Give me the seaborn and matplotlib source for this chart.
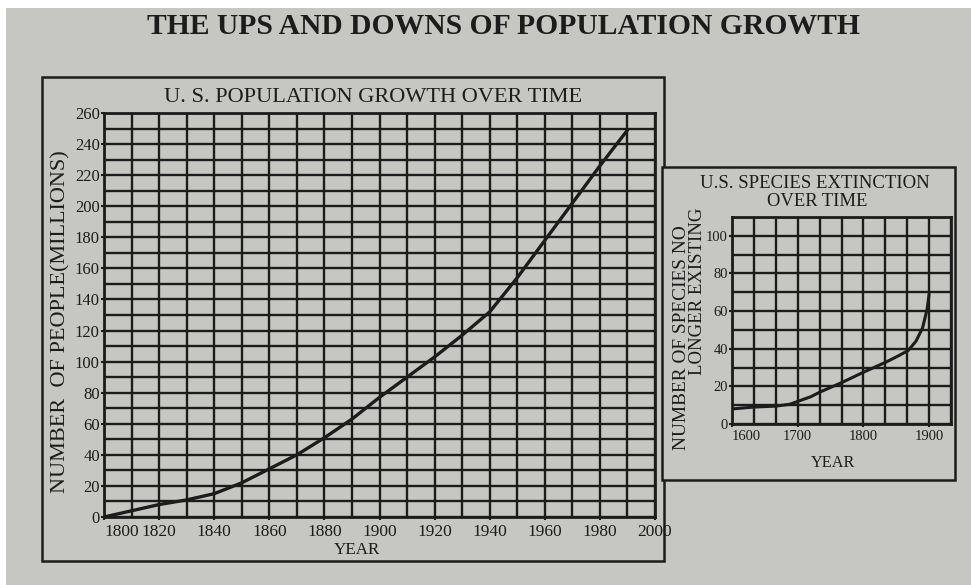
import matplotlib
matplotlib.use("Agg")
import matplotlib.pyplot as plt
import seaborn as sns
import pandas as pd
from matplotlib.patches import Rectangle
from matplotlib.ticker import MultipleLocator, FixedLocator

# ---------------- data ----------------
pop_years = [1800, 1810, 1820, 1830, 1840, 1850, 1860, 1870, 1880, 1890,
             1900, 1910, 1920, 1930, 1940, 1950, 1960, 1970, 1980, 1990]
pop_millions = [0, 4, 8, 11, 15, 22, 31, 40, 51, 63,
                77, 90, 103, 117, 132, 154, 178, 202, 226, 249]

ext_years = [1600, 1633, 1667, 1688, 1700, 1720, 1734, 1767, 1800, 1835,
             1852, 1868, 1880, 1890, 1897, 1900]
ext_counts = [8, 9, 9.5, 10.5, 12, 14.5, 17, 22, 27.5, 33,
              36, 39, 44, 51, 61, 69]

pop_xticks = [1800, 1820, 1840, 1860, 1880, 1900, 1920, 1940, 1960, 1980, 2000]
pop_yticks = [0, 20, 40, 60, 80, 100, 120, 140, 160, 180, 200, 220, 240, 260]
ext_xticks = [1600, 1700, 1800, 1900]
ext_yticks = [0, 20, 40, 60, 80, 100]

page_title = "THE UPS AND DOWNS OF POPULATION GROWTH"
pop_title = "U. S. POPULATION GROWTH OVER TIME"
pop_ylabel = "NUMBER  OF PEOPLE(MILLIONS)"
ext_title = ["U.S. SPECIES EXTINCTION", "OVER TIME"]
ext_ylabel = ["NUMBER OF SPECIES NO", "LONGER EXISTING"]
xlabel = "YEAR"

# ---------------- style ----------------
sns.set_theme(style="ticks")
plt.rcParams["font.family"] = ["Liberation Serif", "DejaVu Serif"]
BG = "#c6c7c2"
INK = "#1c1c1c"

W, H = 971, 585
fig = plt.figure(figsize=(W / 100, H / 100), dpi=100)
fig.patch.set_facecolor("white")


def fx(x):
    return x / W


def fy(y):
    return 1 - y / H


# page background (photo of a printed page)
fig.patches.append(Rectangle((fx(6), 0), 1, fy(8), transform=fig.transFigure,
                             facecolor=BG, edgecolor="none", zorder=-10))

# frames around both charts
fig.patches.append(Rectangle((fx(42), fy(561)), fx(664) - fx(42), fy(77) - fy(561),
                             transform=fig.transFigure, facecolor="none",
                             edgecolor=INK, lw=1.8, zorder=1))
fig.patches.append(Rectangle((fx(662), fy(480)), fx(955) - fx(662), fy(167) - fy(480),
                             transform=fig.transFigure, facecolor=BG,
                             edgecolor=INK, lw=1.8, zorder=2))


def style_axes(ax, xfs, yfs, xpad, ypad):
    ax.set_facecolor(BG)
    for s in ax.spines.values():
        s.set_color(INK)
        s.set_linewidth(2.0)
    ax.grid(which="both", color=INK, lw=1.7)
    ax.set_axisbelow(True)
    ax.tick_params(which="major", length=2.5, width=1.5, color=INK,
                   labelcolor=INK)
    ax.tick_params(axis="x", which="major", labelsize=xfs, pad=xpad)
    ax.tick_params(axis="y", which="major", labelsize=yfs, pad=ypad)
    ax.tick_params(which="minor", length=0)
    ax.set_xlabel("")
    ax.set_ylabel("")


# ---------------- main chart ----------------
ax1 = fig.add_axes([fx(104), fy(517), fx(655) - fx(104), fy(113) - fy(517)])
df_pop = pd.DataFrame({"year": pop_years, "pop": pop_millions})
sns.lineplot(data=df_pop, x="year", y="pop", ax=ax1, color=INK, lw=2.4, zorder=5)
ax1.set_xlim(1800, 2000)
ax1.set_ylim(0, 260)
ax1.xaxis.set_major_locator(FixedLocator(pop_xticks))
ax1.yaxis.set_major_locator(FixedLocator(pop_yticks))
ax1.xaxis.set_minor_locator(MultipleLocator(10))
ax1.yaxis.set_minor_locator(MultipleLocator(10))
style_axes(ax1, 12.5, 12, 2.5, 0.5)
ax1.set_xticklabels([str(v) for v in pop_xticks])
ax1.set_yticklabels([str(v) for v in pop_yticks])
ax1.get_xticklabels()[0].set_horizontalalignment("left")

# ---------------- extinction chart ----------------
ax2 = fig.add_axes([fx(732), fy(424), fx(951) - fx(732), fy(217) - fy(424)])
ax2.set_zorder(3)
df_ext = pd.DataFrame({"year": ext_years, "count": ext_counts})
sns.lineplot(data=df_ext, x="year", y="count", ax=ax2, color=INK, lw=2.2, zorder=5)
ax2.set_xlim(1600, 1600 + 10 * 100 / 3)
ax2.set_ylim(0, 110)
ax2.xaxis.set_major_locator(FixedLocator(ext_xticks))
ax2.yaxis.set_major_locator(FixedLocator(ext_yticks))
ax2.xaxis.set_minor_locator(MultipleLocator(100 / 3))
ax2.yaxis.set_minor_locator(MultipleLocator(10))
style_axes(ax2, 10.5, 10.5, 1.5, 0.5)
ax2.set_xticklabels([str(v) for v in ext_xticks])
ax2.set_yticklabels([str(v) for v in ext_yticks])
ax2.get_xticklabels()[0].set_horizontalalignment("left")

# ---------------- texts ----------------
texts = []
t = fig.text(fx(503), fy(27), page_title, ha="center", va="center",
             fontsize=19, fontweight="bold", color=INK)
texts.append((t, 712, False))
t = fig.text(fx(373), fy(97), pop_title, ha="center", va="center",
             fontsize=14, color=INK)
texts.append((t, 420, False))
t = fig.text(fx(61), fy(322), pop_ylabel, ha="center", va="center",
             rotation=90, fontsize=14, color=INK)
texts.append((t, 345, True))
t = fig.text(fx(357), fy(550), xlabel, ha="center", va="center",
             fontsize=13, color=INK)
texts.append((t, 46, False))
t = fig.text(fx(815), fy(183), ext_title[0], ha="center", va="center",
             fontsize=12, color=INK, zorder=4)
texts.append((t, 228, False))
t = fig.text(fx(817), fy(201), ext_title[1], ha="center", va="center",
             fontsize=12, color=INK, zorder=4)
texts.append((t, 100, False))
t = fig.text(fx(681), fy(338), ext_ylabel[0], ha="center", va="center",
             rotation=90, fontsize=12, color=INK, zorder=4)
texts.append((t, 224, True))
t = fig.text(fx(697), fy(291), ext_ylabel[1], ha="center", va="center",
             rotation=90, fontsize=12, color=INK, zorder=4)
texts.append((t, 166, True))
t = fig.text(fx(833), fy(463), xlabel, ha="center", va="center",
             fontsize=12, color=INK, zorder=4)
texts.append((t, 44, False))

# fit each text to its measured length in the reference
fig.canvas.draw()
r = fig.canvas.get_renderer()
for t, target, vertical in texts:
    bb = t.get_window_extent(r)
    cur = bb.height if vertical else bb.width
    t.set_fontsize(t.get_fontsize() * target / cur)

fig.savefig("out.png", dpi=100, facecolor=fig.get_facecolor())
